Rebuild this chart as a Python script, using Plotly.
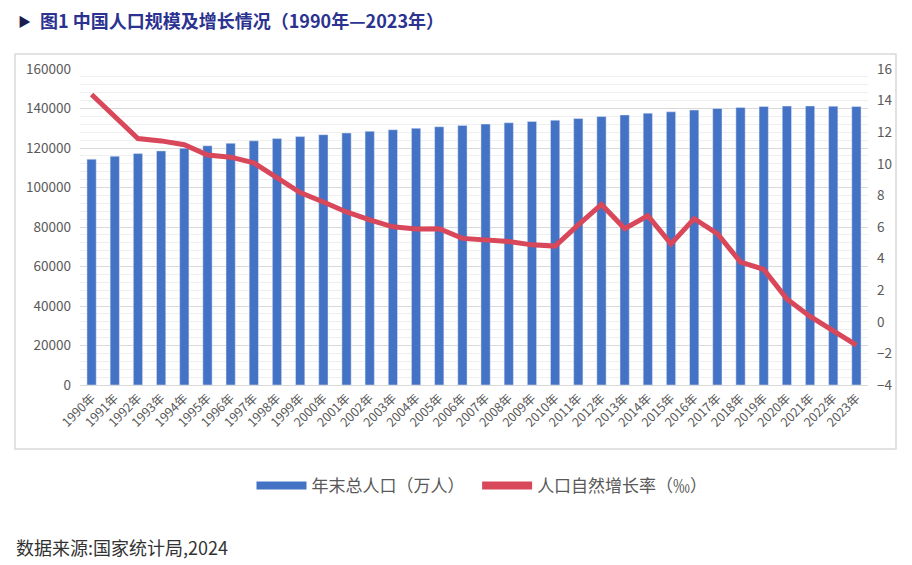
import plotly.graph_objects as go

years = [str(y) + "年" for y in range(1990, 2024)]
population = [114333, 115823, 117171, 118517, 119850, 121121, 122389, 123626, 124761, 125786,
              126743, 127627, 128453, 129227, 129988, 130756, 131448, 132129, 132802, 133450,
              134091, 134916, 135922, 136726, 137646, 138326, 139232, 140011, 140541, 141008,
              141212, 141260, 141175, 140967]
growth = [14.39, 12.98, 11.60, 11.45, 11.21, 10.55, 10.42, 10.06, 9.14, 8.18,
          7.58, 6.95, 6.45, 6.01, 5.87, 5.89, 5.28, 5.17, 5.08, 4.87,
          4.79, 6.13, 7.43, 5.90, 6.71, 4.93, 6.53, 5.58, 3.78, 3.32,
          1.45, 0.34, -0.60, -1.48]
left_ticks = [0, 20000, 40000, 60000, 80000, 100000, 120000, 140000, 160000]
right_ticks = [-4, -2, 0, 2, 4, 6, 8, 10, 12, 14, 16]

BLUE = "#4472C4"
RED = "#D9475A"
FONT = "Noto Sans CJK SC"

fig = go.Figure()
fig.add_trace(go.Bar(x=years, y=population, marker_color=BLUE, showlegend=False,
                     name="年末总人口（万人）"))
fig.add_trace(go.Scatter(x=years, y=growth, yaxis="y2", mode="lines",
                         line=dict(color=RED, width=5), showlegend=False,
                         name="人口自然增长率（‰）"))
# legend proxies
fig.add_trace(go.Scatter(x=[None], y=[None], mode="lines", line=dict(color=BLUE, width=8),
                         name="年末总人口（万人）  "))
fig.add_trace(go.Scatter(x=[None], y=[None], mode="lines", line=dict(color=RED, width=8),
                         name="人口自然增长率（‰）", yaxis="y2"))

L, R, T, B = 80, 44, 69, 180
W, H = 912, 565
pw, ph = W - L - R, H - T - B

def px_to_paper_x(px):
    return (px - L) / pw

def px_to_paper_y(py):
    return (H - B - py) / ph

fig.update_layout(
    width=W, height=H,
    margin=dict(l=L, r=R, t=T, b=B),
    paper_bgcolor="white", plot_bgcolor="white",
    font=dict(family=FONT, color="#595959"),
    bargap=0.6,
    xaxis=dict(tickangle=-45, tickfont=dict(size=12.5, color="#595959"),
               showline=True, linecolor="#d9d9d9", ticks="", showgrid=False),
    yaxis=dict(range=[0, 160000], tickvals=left_ticks, tickformat="d",
               tickfont=dict(size=13.5, color="#595959"),
               showgrid=True, gridcolor="#d9d9d9", gridwidth=1, zeroline=False,
               minor=dict(dtick=4000, showgrid=True, gridcolor="#efefef", gridwidth=1),
               ticks="", ticklabelstandoff=8),
    yaxis2=dict(range=[-4, 16], tickvals=right_ticks, overlaying="y", side="right",
                showgrid=False, zeroline=False, tickfont=dict(size=13.5, color="#595959"),
                ticks="", ticklabelstandoff=8),
    legend=dict(orientation="h", x=px_to_paper_x(482), xanchor="center",
                y=px_to_paper_y(486), yanchor="middle",
                font=dict(size=17, color="#595959", family=FONT),
                itemwidth=50, bgcolor="rgba(0,0,0,0)"),
    shapes=[dict(type="rect", xref="paper", yref="paper",
                 x0=px_to_paper_x(15), x1=px_to_paper_x(896),
                 y0=px_to_paper_y(449), y1=px_to_paper_y(54),
                 line=dict(color="#d9d9d9", width=1.5), fillcolor="rgba(0,0,0,0)", layer="below")],
    annotations=[
        dict(text="▶", xref="paper", yref="paper", x=px_to_paper_x(16), y=px_to_paper_y(20),
             xanchor="left", yanchor="middle", showarrow=False,
             font=dict(size=13, color="#1c1c4f", family=FONT)),
        dict(text="<b>图1 中国人口规模及增长情况（1990年—2023年）</b>", xref="paper", yref="paper",
             x=px_to_paper_x(38), y=px_to_paper_y(20), xanchor="left", yanchor="middle",
             showarrow=False, font=dict(size=18, color="#2B3290", family=FONT)),
        dict(text="数据来源:国家统计局,2024", xref="paper", yref="paper",
             x=px_to_paper_x(14), y=px_to_paper_y(547), xanchor="left", yanchor="middle",
             showarrow=False, font=dict(size=18, color="#333333", family=FONT)),
    ],
)

fig.write_html("out.html")
